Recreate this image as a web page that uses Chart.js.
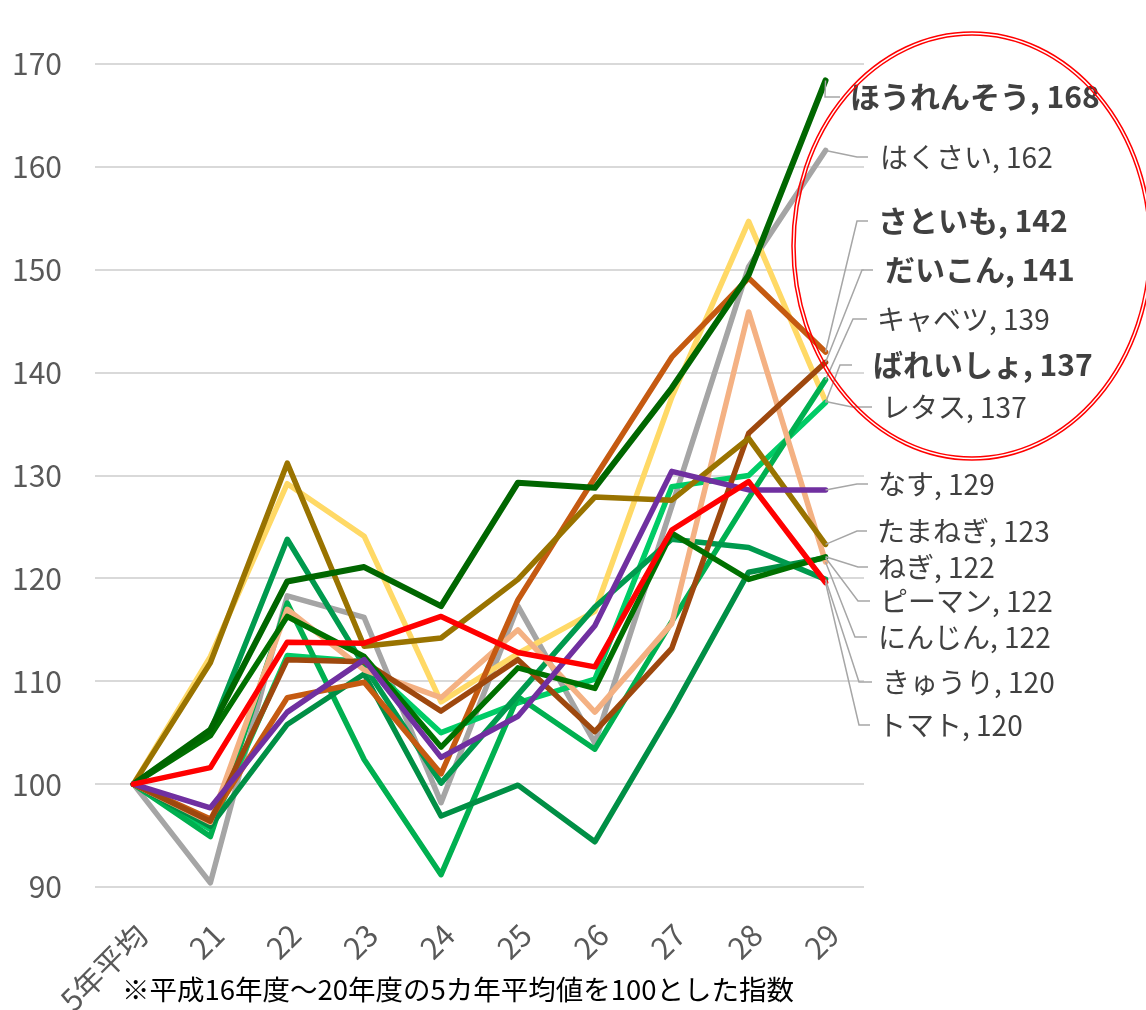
<!DOCTYPE html>
<html lang="ja">
<head>
<meta charset="utf-8">
<title>野菜価格指数</title>
<script src="https://cdn.jsdelivr.net/npm/chart.js@4"></script>
<style>
  html, body { margin: 0; padding: 0; background: #ffffff; }
  #wrap { position: relative; width: 1146px; height: 1010px; }
  canvas { display: block; }
</style>
</head>
<body>
<div id="wrap"><canvas id="c" width="1146" height="1010"></canvas></div>
<script>
// 年度（5年平均 = 平成16〜20年度の平均）
const categories = ['5年平均', '21', '22', '23', '24', '25', '26', '27', '28', '29'];

// 品目別の価格指数（5年平均 = 100）
const spinach   = [100, 105.3, 119.7, 121.1, 117.3, 129.3, 128.8, 138.5, 149.5, 168.4]; // ほうれんそう
const chinaCab  = [100, 90.4, 118.3, 116.2, 98.2, 117.3, 104.0, 127.0, 150.3, 161.6];   // はくさい
const taro      = [100, 96.6, 108.4, 109.9, 101.0, 117.9, 129.8, 141.5, 149.2, 142.0];  // さといも
const daikon    = [100, 96.4, 112.1, 111.9, 107.1, 112.1, 105.1, 113.2, 134.1, 141.0];  // だいこん
const cabbage   = [100, 94.9, 117.6, 102.4, 91.2, 108.5, 103.4, 115.8, 127.8, 139.3];   // キャベツ
const potato    = [100, 95.6, 112.5, 111.9, 105.0, 107.9, 110.2, 128.9, 130.0, 137.1];  // ばれいしょ
const lettuce   = [100, 112.4, 129.2, 124.1, 108.0, 112.7, 116.8, 137.6, 154.7, 137.2]; // レタス
const eggplant  = [100, 97.7, 107.0, 112.1, 102.6, 106.6, 115.4, 130.4, 128.6, 128.6];  // なす
const onion     = [100, 111.8, 131.2, 113.4, 114.2, 119.9, 127.9, 127.6, 133.6, 123.3]; // たまねぎ
const leek      = [100, 104.7, 116.3, 112.4, 103.6, 111.3, 109.3, 124.4, 119.9, 122.1]; // ねぎ
const pepper    = [100, 95.9, 105.8, 110.7, 96.9, 99.9, 94.4, 107.1, 120.6, 122.0];     // ピーマン
const carrot    = [100, 96.3, 117.0, 111.1, 108.4, 115.0, 107.0, 115.6, 145.9, 121.6];  // にんじん
const cucumber  = [100, 105.1, 123.8, 111.5, 100.1, 108.7, 117.2, 123.8, 123.0, 119.9]; // きゅうり
const tomato    = [100, 101.6, 113.8, 113.7, 116.3, 112.8, 111.4, 124.7, 129.4, 119.6]; // トマト

const seriesNames  = ['ほうれんそう', 'はくさい', 'さといも', 'だいこん', 'キャベツ', 'ばれいしょ', 'レタス',
                      'なす', 'たまねぎ', 'ねぎ', 'ピーマン', 'にんじん', 'きゅうり', 'トマト'];
const seriesValues = [spinach, chinaCab, taro, daikon, cabbage, potato, lettuce,
                      eggplant, onion, leek, pepper, carrot, cucumber, tomato];
const emphasized   = ['ほうれんそう', 'さといも', 'だいこん', 'ばれいしょ'];

const yTicks = { min: 90, max: 170, step: 10 };
const footnote = '※平成16年度～20年度の5カ年平均値を100とした指数';

// --- styling ---
const lineColors = ['#006600', '#A5A5A5', '#C55A11', '#9E480E', '#00B050', '#00CC66', '#FFD966',
                    '#7030A0', '#997300', '#007000', '#008F45', '#F4B183', '#009A4E', '#FF0000'];
const lineWidths = [6, 5.5, 5.5, 5.5, 5.5, 5.5, 5.5, 5.5, 5.5, 5.5, 5.5, 5.5, 5.5, 5.5];
// lower value is painted on top
const drawOrder  = [2, 13, 6, 5, 10, 11, 12, 1, 4, 3, 9, 7, 8, 0];

// label placement on the right: [elbow x, stub end x, text x, text y]
const labelPlacement = [
  [825, 840, 850, 97],
  [857, 868, 880, 157],
  [857, 868, 878, 221],
  [862, 873, 885, 270],
  [853, 867, 877, 319],
  [840, 852, 873, 365],
  [852, 872, 882, 407],
  [857, 868, 878, 484],
  [857, 867, 877, 531],
  [858, 868, 878, 567],
  [858, 870, 880, 601],
  [855, 867, 878, 637],
  [859, 872, 882, 682],
  [859, 870, 878, 725]
];

const FONT = '"Noto Sans CJK JP", "Noto Sans", sans-serif';

const datasets = seriesNames.map((name, i) => ({
  label: name,
  data: seriesValues[i],
  borderColor: lineColors[i],
  backgroundColor: lineColors[i],
  borderWidth: lineWidths[i],
  pointRadius: 0,
  pointHoverRadius: 0,
  tension: 0,
  fill: false,
  borderJoinStyle: 'round',
  borderCapStyle: 'round',
  order: drawOrder[i]
}));

// data labels with leader lines, the red highlight ring and the footnote
const annotations = {
  id: 'annotations',
  afterDatasetsDraw(chart) {
    const ctx = chart.ctx;
    ctx.save();
    chart.data.datasets.forEach((ds, i) => {
      const meta = chart.getDatasetMeta(i);
      const last = meta.data[meta.data.length - 1];
      const [elbowX, stubX, textX, textY] = labelPlacement[i];
      ctx.strokeStyle = '#A6A6A6';
      ctx.lineWidth = 1.5;
      ctx.beginPath();
      ctx.moveTo(last.x, last.y);
      ctx.lineTo(elbowX, textY);
      ctx.lineTo(stubX, textY);
      ctx.stroke();

      const v = ds.data[ds.data.length - 1];
      const bold = emphasized.includes(ds.label);
      ctx.font = bold ? 'bold 30px ' + FONT : '28px ' + FONT;
      ctx.fillStyle = '#404040';
      ctx.textAlign = 'left';
      ctx.textBaseline = 'middle';
      ctx.fillText(ds.label + ', ' + Math.round(v), textX, textY);
    });

    // double red ring around the upper labels
    ctx.strokeStyle = '#FF0000';
    ctx.lineWidth = 1.5;
    [[180, 214], [177, 211]].forEach(([rx, ry]) => {
      ctx.beginPath();
      ctx.ellipse(972, 246, rx, ry, 0, 0, Math.PI * 2);
      ctx.stroke();
    });

    ctx.font = '27.5px ' + FONT;
    ctx.fillStyle = '#000000';
    ctx.textAlign = 'left';
    ctx.textBaseline = 'middle';
    ctx.fillText(footnote, 122, 990);
    ctx.restore();
  }
};

new Chart(document.getElementById('c'), {
  type: 'line',
  data: { labels: categories, datasets },
  options: {
    responsive: false,
    animation: false,
    events: [],
    layout: { padding: { top: 64, right: 282, left: 0, bottom: 0 } },
    plugins: { legend: { display: false }, tooltip: { enabled: false } },
    scales: {
      x: {
        offset: true,
        grid: { display: false },
        border: { display: false },
        ticks: {
          minRotation: 45, maxRotation: 45, autoSkip: false, padding: 22, labelOffset: 8,
          color: '#595959', font: { family: FONT, size: 30 }
        },
        afterFit(scale) { scale.height = 123; }
      },
      y: {
        min: yTicks.min, max: yTicks.max,
        grid: { color: '#D9D9D9', lineWidth: 2, drawTicks: false },
        border: { display: false },
        ticks: {
          stepSize: yTicks.step, padding: 33,
          color: '#595959', font: { family: FONT, size: 30 }
        },
        afterFit(scale) { scale.width = 95; }
      }
    }
  },
  plugins: [annotations]
});
</script>
</body>
</html>
